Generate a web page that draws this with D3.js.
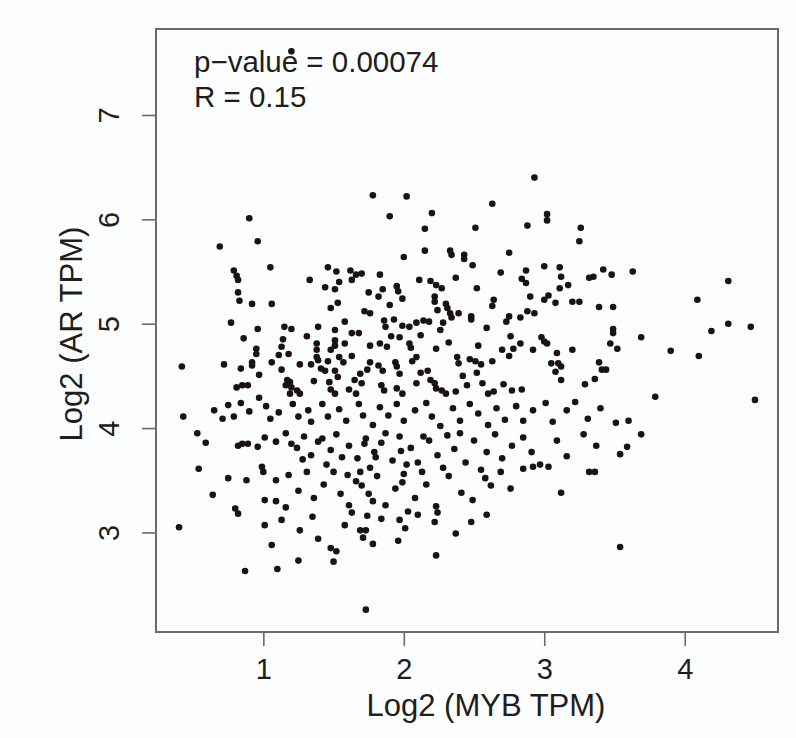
<!DOCTYPE html>
<html>
<head>
<meta charset="utf-8">
<script src="https://cdn.jsdelivr.net/npm/d3@7"></script>
<style>
  html, body { margin: 0; padding: 0; background: #fcfdfe; }
  svg { display: block; font-family: "Liberation Sans", Arial, Helvetica, sans-serif; }
</style>
</head>
<body>
<svg id="chart" width="796" height="738"></svg>
<script>
// [log2 MYB TPM, log2 AR TPM]
const upperLeft = [
  [1.20,7.61],[1.78,6.23],[0.90,6.01],[0.69,5.74],[0.96,5.79],[0.79,5.51],[0.81,5.46],[0.82,5.42],
  [1.05,5.54],[1.33,5.42],[1.46,5.54],[1.52,5.50],[1.62,5.51],[1.66,5.47],[1.70,5.48],[1.54,5.40],
  [1.63,5.42],[1.44,5.35],[1.51,5.33],[1.75,5.30],[0.82,5.30],[0.83,5.22],[0.92,5.19],[1.06,5.19],
  [1.48,5.15],[1.53,5.20],[1.72,5.12],[1.76,5.10],[0.77,5.01],[0.96,4.95],[0.86,4.86],[1.15,4.97],
  [1.20,4.95],[1.31,4.88],[1.39,4.97],[1.51,4.94],[1.58,5.02],[1.63,4.91],[1.68,4.91],[1.76,4.79],
  [1.14,4.85],[1.13,4.78],[1.38,4.81],[1.38,4.75],[1.51,4.84],[1.51,4.79],[1.58,4.81],[0.95,4.76],
  [0.95,4.71],[1.11,4.70],[1.18,4.71],[1.38,4.68],[1.39,4.65],[1.48,4.75],[1.54,4.68],[1.57,4.63],
  [1.63,4.69],[1.76,4.63],[0.42,4.59],[0.72,4.61],[0.92,4.63],[0.92,4.60],[1.06,4.63],[0.84,4.57],
  [1.26,4.61],[1.34,4.61],[1.46,4.64],[1.13,4.56],[0.97,4.51],[1.41,4.57],[1.44,4.55],[1.51,4.55],
  [1.53,4.49],[1.69,4.52],[1.74,4.56],[0.81,4.39],[0.85,4.41],[0.89,4.41],[1.17,4.46],[1.19,4.44],
  [1.36,4.45],[1.47,4.44],[1.65,4.46],[1.70,4.43],[1.16,4.41],[1.20,4.39],[1.24,4.36],[1.19,4.33],
  [1.26,4.33],[1.48,4.37],[1.51,4.33],[1.61,4.37],[1.66,4.33],[0.97,4.29]
];

const upperMiddle = [
  [2.93,6.40],[2.02,6.22],[2.63,6.15],[1.90,6.03],[2.20,6.06],[2.15,5.91],[2.51,5.92],[3.02,6.05],
  [3.02,5.99],[2.88,5.94],[3.26,5.92],[3.25,5.79],[2.15,5.70],[2.00,5.64],[2.33,5.70],[2.34,5.66],
  [2.43,5.66],[2.43,5.62],[2.49,5.56],[2.75,5.68],[2.69,5.49],[2.87,5.51],[3.00,5.55],[3.11,5.54],
  [3.12,5.45],[3.32,5.44],[3.35,5.45],[1.83,5.47],[2.11,5.42],[2.37,5.44],[2.84,5.43],[2.87,5.39],
  [2.19,5.41],[2.23,5.37],[2.27,5.34],[1.85,5.33],[1.95,5.36],[1.96,5.31],[2.52,5.34],[3.11,5.34],
  [3.17,5.37],[1.82,5.26],[1.99,5.24],[2.22,5.26],[2.22,5.21],[2.90,5.26],[3.03,5.27],[3.00,5.23],
  [3.08,5.20],[2.64,5.23],[2.63,5.17],[3.20,5.21],[3.25,5.21],[1.90,5.18],[2.30,5.19],[2.31,5.15],
  [2.24,5.13],[2.33,5.10],[2.34,5.06],[2.39,5.10],[2.48,5.07],[2.48,5.04],[2.75,5.07],[2.73,5.02],
  [2.83,5.06],[2.88,5.12],[2.93,5.10],[1.86,5.03],[1.87,4.97],[1.93,5.04],[1.99,4.98],[2.04,4.97],
  [2.09,5.01],[2.14,5.03],[2.18,5.02],[2.28,5.01],[2.26,4.94],[2.59,4.96],[2.76,4.88],[1.91,4.88],
  [1.97,4.87],[2.12,4.89],[2.04,4.81],[2.05,4.77],[1.83,4.81],[1.88,4.78],[2.32,4.82],[2.53,4.79],
  [2.70,4.75],[2.75,4.69],[2.78,4.76],[2.83,4.81],[2.98,4.87],[3.00,4.83],[3.02,4.81],[2.92,4.75],
  [3.09,4.72],[3.20,4.75],[2.23,4.76],[2.09,4.68],[2.06,4.64],[1.94,4.63],[1.95,4.59],[1.82,4.60],
  [1.85,4.55],[2.38,4.68],[2.39,4.62],[2.47,4.66],[2.51,4.64],[2.55,4.61],[2.63,4.64],[3.05,4.62],
  [3.10,4.62],[3.12,4.59],[3.08,4.54],[2.12,4.53],[2.17,4.55],[1.97,4.52],[2.42,4.50],[2.52,4.53],
  [2.56,4.43],[2.71,4.42],[2.84,4.37],[2.77,4.36],[3.12,4.46],[3.29,4.42],[3.36,4.47],[1.84,4.41],
  [1.86,4.36],[1.95,4.38],[1.99,4.33],[2.09,4.43],[2.19,4.46],[2.22,4.43],[2.23,4.38],[2.27,4.36],
  [2.30,4.33],[2.37,4.35],[2.45,4.41],[2.60,4.33],[2.64,4.35]
];

const upperRight = [
  [3.42,5.52],[3.48,5.47],[3.63,5.50],[4.31,5.41],[3.39,5.16],[3.49,5.16],[4.09,5.23],[3.49,4.95],
  [3.49,4.91],[3.47,4.81],[3.52,4.76],[3.69,4.87],[4.19,4.93],[4.31,5.00],[4.47,4.97],[3.90,4.74],
  [4.10,4.69],[3.39,4.63],[3.41,4.56],[3.44,4.56],[3.79,4.30],[4.50,4.27]
];

const leftEdge = [
  [0.75,4.22],[0.65,4.17],[0.84,4.24],[0.90,4.16],[0.43,4.11],[0.71,4.09],[0.79,4.11],[0.53,3.95],
  [0.59,3.86],[0.82,3.83],[0.85,3.85],[0.89,3.85],[0.96,3.82],[0.54,3.61],[0.64,3.36],[0.75,3.52],
  [0.88,3.50],[0.40,3.05],[0.80,3.23],[0.82,3.18],[1.01,3.31],[1.09,3.30],[1.16,3.24],[1.01,3.07],
  [1.06,2.88],[1.25,2.73],[0.87,2.63],[1.10,2.65]
];

const lowerBand = [
  [1.02,4.21],[1.05,4.09],[1.11,4.15],[1.21,4.23],[1.25,4.11],[1.32,4.17],[1.34,4.06],[1.42,4.23],
  [1.46,4.11],[1.54,4.18],[1.59,4.07],[1.68,4.23],[1.71,4.12],[1.78,4.03],[1.83,4.20],[1.89,4.12],
  [1.95,4.23],[2.00,4.07],[2.08,4.17],[2.16,4.24],[2.20,4.11],[2.26,4.02],[2.35,4.19],[2.40,4.07],
  [2.47,4.23],[2.53,4.14],[2.60,4.03],[2.66,4.19],[2.72,4.08],[2.80,4.21],[2.85,4.07],[2.92,4.17],
  [3.01,4.24],[3.06,4.06],[3.16,4.17],[3.22,4.25],[3.31,4.09],[3.40,4.19],[3.51,4.05],[3.60,4.07],
  [1.01,3.91],[1.09,3.87],[1.16,3.95],[1.24,3.81],[1.29,3.92],[1.34,3.74],[1.39,3.87],[1.48,3.79],
  [1.52,3.94],[1.61,3.83],[1.67,3.71],[1.73,3.90],[1.79,3.77],[1.84,3.86],[1.92,3.69],[1.97,3.92],
  [2.05,3.81],[2.10,3.67],[2.18,3.88],[2.24,3.74],[2.31,3.93],[2.36,3.80],[2.44,3.67],[2.50,3.88],
  [2.59,3.77],[2.65,3.94],[2.70,3.71],[2.77,3.83],[2.85,3.91],[2.91,3.77],[2.97,3.65],[3.09,3.88],
  [3.16,3.73],[3.28,3.94],[3.37,3.83],[3.54,3.75],[3.59,3.82],[3.69,3.94],
  [0.99,3.63],[1.00,3.58],[1.09,3.50],[1.18,3.55],[1.25,3.40],[1.31,3.58],[1.36,3.33],[1.43,3.46],
  [1.50,3.58],[1.55,3.37],[1.61,3.26],[1.66,3.49],[1.75,3.37],[1.81,3.54],[1.87,3.26],[1.94,3.42],
  [2.00,3.56],[2.08,3.33],[2.16,3.46],[2.23,3.25],[2.32,3.54],[2.41,3.38],[2.49,3.31],[2.58,3.52],
  [2.69,3.58],[2.76,3.42],[2.85,3.61],[2.92,3.63],[3.03,3.63],[3.12,3.38],[3.32,3.58],[3.36,3.58],
  [1.13,3.12],[1.26,3.02],[1.35,3.15],[1.39,2.94],[1.48,2.85],[1.52,2.82],[1.58,3.07],[1.63,3.19],
  [1.69,3.02],[1.73,3.02],[1.78,2.89],[1.84,3.13],[1.96,2.92],[2.01,3.04],[2.10,3.17],[2.22,3.10],
  [2.24,3.19],[2.23,2.78],[2.37,2.99],[2.48,3.10],[2.59,3.17],[1.50,2.72],[3.54,2.86],[1.73,2.26]
];

// denser streaks in the lower middle of the cloud
const lowerCore = [
  [1.72,3.85],[1.76,3.62],[1.70,3.45],[1.78,3.30],[1.74,3.16],[1.71,2.95],[1.80,3.72],[1.69,3.58],
  [1.98,3.78],[2.02,3.65],[1.99,3.48],[2.03,3.20],[1.97,3.12],[1.45,3.65],[1.42,3.90],[1.56,3.72],
  [1.60,3.55],[1.28,3.70],[1.20,3.85],[2.13,3.58],[2.28,3.62],[2.40,3.95],[2.55,3.60],[2.62,3.45],
  [2.14,3.92],[1.87,3.95]
];

const xTicks = [1, 2, 3, 4];
const yTicks = [3, 4, 5, 6, 7];
const pValueText = "p\u2212value = 0.00074";
const rText = "R = 0.15";
const xTitle = "Log2 (MYB TPM)";
const yTitle = "Log2 (AR TPM)";

const allPoints = [].concat(upperLeft, upperMiddle, upperRight, leftEdge, lowerBand, lowerCore);

const box = { left: 156, right: 778, top: 29, bottom: 632 };
const ink = "#221c1b";
const frame = "#6a6a6a";

// R-style 4% padding around the data range
function padded(ext) {
  const r = ext[1] - ext[0];
  return [ext[0] - 0.04 * r, ext[1] + 0.04 * r];
}

const x = d3.scaleLinear()
  .domain(padded(d3.extent(allPoints, d => d[0])))
  .range([box.left, box.right]);
const y = d3.scaleLinear()
  .domain(padded(d3.extent(allPoints, d => d[1])))
  .range([box.bottom, box.top]);

const svg = d3.select("#chart");

svg.append("rect")
  .attr("width", 796).attr("height", 738)
  .attr("fill", "#fcfdfe");

// x axis
const gx = svg.append("g")
  .attr("transform", `translate(0,${box.bottom})`)
  .call(d3.axisBottom(x).tickValues(xTicks).tickSize(14).tickFormat(d3.format("d")));
gx.select(".domain").remove();
gx.selectAll(".tick line").attr("stroke", frame).attr("stroke-width", 1.6);
gx.selectAll(".tick text")
  .attr("y", 47).attr("dy", null)
  .attr("fill", ink)
  .style("font-size", "29px");

// y axis, labels parallel to the axis
const gy = svg.append("g")
  .attr("transform", `translate(${box.left},0)`)
  .call(d3.axisLeft(y).tickValues(yTicks).tickSize(14).tickFormat(d3.format("d")));
gy.select(".domain").remove();
gy.selectAll(".tick line").attr("stroke", frame).attr("stroke-width", 1.6);
gy.selectAll(".tick text")
  .attr("x", null).attr("dy", null)
  .attr("text-anchor", "middle")
  .attr("transform", "translate(-37,0) rotate(-90)")
  .attr("fill", ink)
  .style("font-size", "29px");

// plot frame
svg.append("rect")
  .attr("x", box.left).attr("y", box.top)
  .attr("width", box.right - box.left).attr("height", box.bottom - box.top)
  .attr("fill", "none")
  .attr("stroke", frame)
  .attr("stroke-width", 2);

// points
svg.append("g")
  .selectAll("circle")
  .data(allPoints)
  .join("circle")
  .attr("cx", d => x(d[0]))
  .attr("cy", d => y(d[1]))
  .attr("r", 3.3)
  .attr("fill", "#1b1311");

// stats annotation
svg.append("text")
  .attr("x", 194).attr("y", 72)
  .attr("fill", ink)
  .style("font-size", "29.5px")
  .text(pValueText);
svg.append("text")
  .attr("x", 194).attr("y", 107)
  .attr("fill", ink)
  .style("font-size", "29.5px")
  .text(rText);

// axis titles
svg.append("text")
  .attr("x", 486).attr("y", 716)
  .attr("text-anchor", "middle")
  .attr("fill", ink)
  .style("font-size", "31px")
  .text(xTitle);
svg.append("text")
  .attr("transform", "translate(82,334) rotate(-90)")
  .attr("text-anchor", "middle")
  .attr("fill", ink)
  .style("font-size", "31px")
  .text(yTitle);
</script>
</body>
</html>
